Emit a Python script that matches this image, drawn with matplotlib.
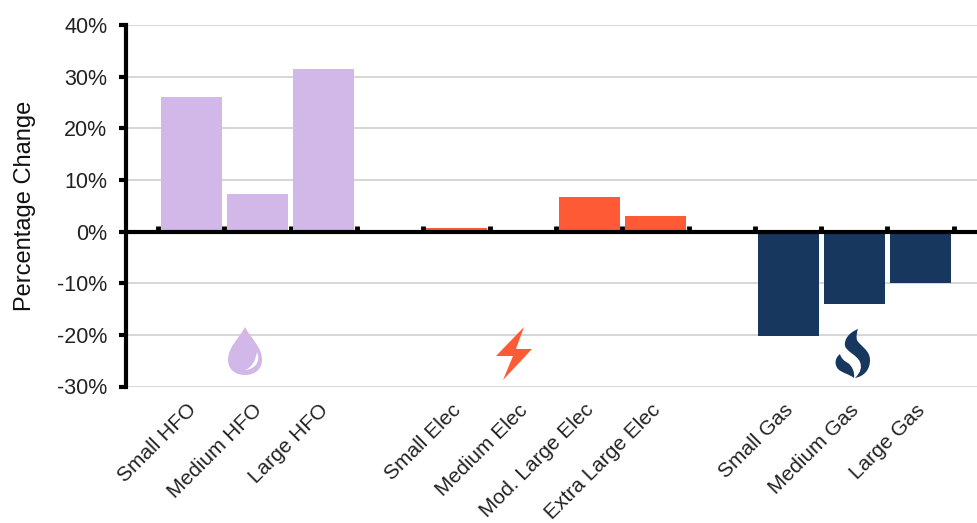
import matplotlib
matplotlib.use('Agg')
import matplotlib.pyplot as plt
from matplotlib.patches import PathPatch
from matplotlib.path import Path
from matplotlib.transforms import Affine2D, ScaledTranslation
import numpy as np

plt.rcParams['font.family'] = 'Liberation Sans'

labels = ['Small HFO', 'Medium HFO', 'Large HFO', '',
          'Small Elec', 'Medium Elec', 'Mod. Large Elec', 'Extra Large Elec', '',
          'Small Gas', 'Medium Gas', 'Large Gas']
values = [26.0, 7.2, 31.4, 0,
          0.7, 0.1, 6.7, 3.0, 0,
          -20.3, -14.1, -10.0]
colors = ['#D2B8E8'] * 4 + ['#FF5A36'] * 5 + ['#17375E'] * 3
yticks = [-30, -20, -10, 0, 10, 20, 30, 40]

W, H = 977, 523
fig = plt.figure(figsize=(W / 100, H / 100), dpi=100)
# axes box in pixels of the picture
left, right, top, bottom = 126, 977, 25, 386.5
ax = fig.add_axes([left / W, 1 - bottom / H, (right - left) / W, (bottom - top) / H])

x = np.arange(len(values))
ax.bar(x, values, width=0.92, color=colors, zorder=2)
ax.set_xlim(-0.985, 11.85)
ax.set_ylim(-30, 40)

ax.set_yticks(yticks)
ax.set_yticklabels([f'{v}%' for v in yticks], fontsize=15.5, color='#222222')
ax.tick_params(axis='y', direction='out', length=5, width=3, color='black', pad=8.5)
ax.grid(axis='y', color='#cfcfcf', linewidth=1.2, zorder=1)
ax.set_axisbelow(True)
ax.set_ylabel('Percentage Change', fontsize=17, color='#111111')
ax.yaxis.set_label_coords((36 - left) / (right - left), 0.5)

for side in ['top', 'right', 'bottom']:
    ax.spines[side].set_visible(False)
ax.spines['left'].set_linewidth(3)
ax.spines['left'].set_color('black')

# zero line with small ticks between the categories
ax.axhline(0, color='black', linewidth=3, zorder=3)
edges = np.arange(-0.5, len(values) + 0.5)
edges = edges[edges < 11.85]
ax.vlines(edges, 0, 1.0, color='black', linewidth=3.5, zorder=1.5)

ax.set_xticks(x)
ax.set_xticklabels(labels, rotation=45, ha='right', rotation_mode='anchor', fontsize=15, color='#222222')
ax.tick_params(axis='x', length=0, pad=10)
# labels sit a little left of the bar centres
shift = ScaledTranslation(-3.5 / 72, 0, fig.dpi_scale_trans)
for t in ax.get_xticklabels():
    t.set_transform(t.get_transform() + shift)


def pixel_patch(verts, codes, color):
    # icon outlines are given in picture pixels
    tr = Affine2D().scale(1, -1).translate(0, H)
    p = PathPatch(Path(verts, codes), facecolor=color, edgecolor='none', transform=tr, zorder=4)
    fig.add_artist(p)


M, L, C, Z = Path.MOVETO, Path.LINETO, Path.CURVE4, Path.CLOSEPOLY

# droplet
pixel_patch([(245, 327), (238, 340), (228, 347), (228, 360), (228, 370), (236, 375), (245, 375),
             (254, 375), (262, 370), (262, 360), (262, 347), (252, 340), (245, 327), (245, 327)],
            [M, C, C, C, C, C, C, C, C, C, C, C, C, Z], '#D2B8E8')
pixel_patch([(257, 352), (261, 362), (255, 369), (245, 370), (252, 367), (255, 362), (257, 352), (257, 352)],
            [M, C, C, C, C, C, C, Z], 'white')

# lightning bolt
pixel_patch([(524, 327), (496, 356), (513, 356), (503, 380), (532, 349), (516, 349), (524, 327), (524, 327)],
            [M, L, L, L, L, L, L, Z], '#FF5A36')

# flame
pixel_patch([(858, 329), (848, 333), (844, 340), (845, 346), (847, 352), (857, 355), (860, 362),
             (862, 367), (861, 372), (855, 378), (865, 376), (870, 369), (870, 360),
             (870, 350), (860, 346), (857, 340), (856, 336), (857, 332), (858, 329), (858, 329)],
            [M, C, C, C, C, C, C, C, C, C, C, C, C, C, C, C, C, C, C, Z], '#17375E')
pixel_patch([(840, 354), (835, 358), (834, 364), (838, 369), (842, 373), (849, 374), (854, 378),
             (855, 372), (852, 366), (848, 363), (844, 361), (841, 358), (840, 354), (840, 354)],
            [M, C, C, C, C, C, C, C, C, C, C, C, C, Z], '#17375E')

fig.savefig('out.png', dpi=100)
